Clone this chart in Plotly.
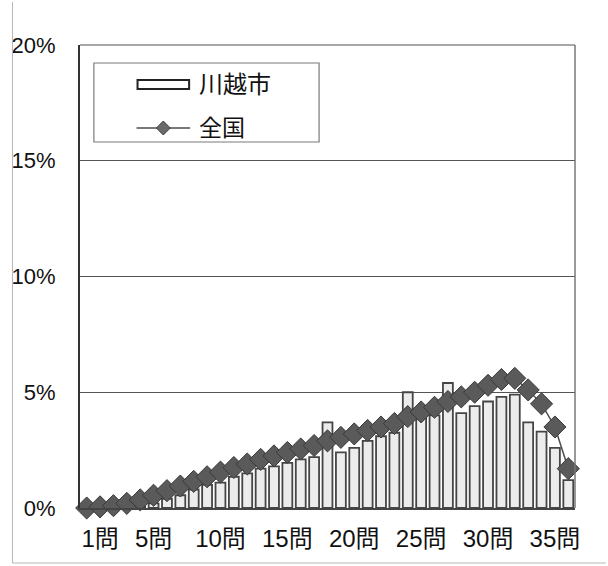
import plotly.graph_objects as go

# 問題数ごとの分布（%）
questions = list(range(0, 37))
kawagoe = [0.0, 0.0, 0.0, 0.05, 0.1, 0.2, 0.4, 0.55, 0.8, 1.0,
           1.1, 1.35, 1.5, 1.7, 1.8, 1.95, 2.1, 2.2, 3.7, 2.4,
           2.6, 2.9, 3.1, 3.25, 5.0, 3.9, 4.0, 5.4, 4.1, 4.4,
           4.6, 4.8, 4.9, 3.7, 3.3, 2.6, 1.2]
national = [0.0, 0.05, 0.1, 0.2, 0.35, 0.55, 0.75, 0.95, 1.15, 1.35,
            1.55, 1.75, 1.9, 2.1, 2.25, 2.4, 2.55, 2.7, 2.9, 3.05,
            3.2, 3.35, 3.5, 3.65, 3.95, 4.15, 4.35, 4.6, 4.8, 5.0,
            5.3, 5.55, 5.6, 5.1, 4.5, 3.5, 1.7]
x_tickvals = [1, 5, 10, 15, 20, 25, 30, 35]
x_ticktext = ["1問", "5問", "10問", "15問", "20問", "25問", "30問", "35問"]
y_tickvals = [0, 5, 10, 15, 20]
y_ticktext = ["0%", "5%", "10%", "15%", "20%"]
series_names = ["川越市", "全国"]

W, H = 608, 566
L, R, T, B = 76, 575, 45, 508
FONT = "Liberation Sans, Arial, Noto Sans CJK JP, sans-serif"


def px(x):
    return (x - L) / (R - L)


def py(y):
    return (B - y) / (B - T)


fig = go.Figure()
fig.add_trace(go.Bar(
    x=questions, y=kawagoe, name=series_names[0],
    marker=dict(color="#ececec", line=dict(color="#454545", width=1.8)),
    showlegend=False,
))
fig.add_trace(go.Scatter(
    x=questions, y=national, name=series_names[1], mode="lines+markers",
    line=dict(color="#4d4d4d", width=1.5),
    marker=dict(symbol="diamond", size=17, color="#5a5a5a",
                line=dict(color="#3a3a3a", width=1)),
    showlegend=False, cliponaxis=False,
))

shapes = []
# plot frame
shapes.append(dict(type="line", xref="paper", yref="paper", x0=0, x1=1, y0=1, y1=1,
                   line=dict(color="#8a8a8a", width=1.5)))
shapes.append(dict(type="line", xref="paper", yref="paper", x0=1, x1=1, y0=0, y1=1,
                   line=dict(color="#777777", width=1.5)))
# outer chart border (left and bottom)
shapes.append(dict(type="line", xref="paper", yref="paper", x0=px(8), x1=px(8), y0=py(563), y1=py(2),
                   line=dict(color="#b5b5b5", width=1)))
shapes.append(dict(type="line", xref="paper", yref="paper", x0=px(8), x1=px(606), y0=py(563), y1=py(563),
                   line=dict(color="#b5b5b5", width=1)))

# legend box
shapes.append(dict(type="rect", xref="paper", yref="paper", x0=px(90), x1=px(317), y0=py(142), y1=py(63),
                   fillcolor="white", line=dict(color="#7a7a7a", width=1.2), layer="above"))
# bar symbol
shapes.append(dict(type="rect", xref="paper", yref="paper", x0=px(134), x1=px(186), y0=py(89), y1=py(80),
                   fillcolor="white", line=dict(color="#222222", width=2), layer="above"))
# line symbol with diamond
shapes.append(dict(type="line", xref="paper", yref="paper", x0=px(133), x1=px(187), y0=py(128), y1=py(128),
                   line=dict(color="#4d4d4d", width=1.5), layer="above"))
cx, cy, d = 160, 128, 7
shapes.append(dict(type="path", xref="paper", yref="paper",
                   path=f"M {px(cx - d)},{py(cy)} L {px(cx)},{py(cy - d)} L {px(cx + d)},{py(cy)} "
                        f"L {px(cx)},{py(cy + d)} Z",
                   fillcolor="#6a6a6a", line=dict(color="#3d3d3d", width=1), layer="above"))

annotations = [
    dict(xref="paper", yref="paper", x=px(194), y=py(85), text=series_names[0], showarrow=False,
         xanchor="left", yanchor="middle", font=dict(size=24, color="#111111", family=FONT)),
    dict(xref="paper", yref="paper", x=px(194), y=py(128), text=series_names[1], showarrow=False,
         xanchor="left", yanchor="middle", font=dict(size=23, color="#111111", family=FONT)),
]

fig.update_layout(
    width=W, height=H,
    margin=dict(l=L, r=W - R, t=T, b=H - B, pad=0),
    paper_bgcolor="white", plot_bgcolor="white",
    bargap=0.26,
    shapes=shapes, annotations=annotations,
    font=dict(family=FONT, color="#111111"),
)
fig.update_xaxes(
    range=[-0.5, 36.5], tickvals=x_tickvals, ticktext=x_ticktext,
    tickfont=dict(size=24, color="#111111"),
    showgrid=False, showline=True, linecolor="#444444", linewidth=1.5,
    ticks="", ticklabelstandoff=8, zeroline=False,
)
fig.update_yaxes(
    range=[0, 20], tickvals=y_tickvals, ticktext=y_ticktext,
    tickfont=dict(size=22, color="#111111"),
    showgrid=True, gridcolor="#555555", gridwidth=1,
    showline=True, linecolor="#333333", linewidth=2,
    ticks="", ticklabelstandoff=18, zeroline=False,
)

fig.write_html("out.html")
